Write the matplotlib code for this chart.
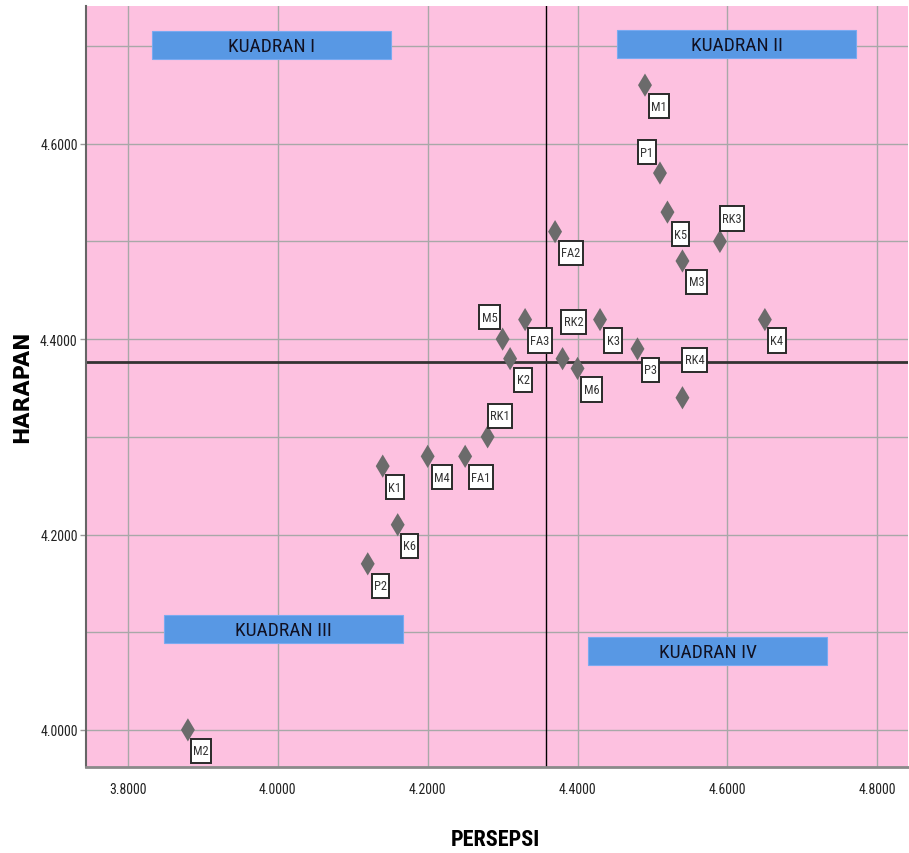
import numpy as np
import matplotlib
matplotlib.use('Agg')
import matplotlib.pyplot as plt
from matplotlib.patches import Rectangle
from matplotlib.path import Path

plt.rcParams['font.family'] = ['Roboto Condensed', 'Liberation Sans Narrow', 'Liberation Sans', 'DejaVu Sans']

# data: kode indikator, persepsi (x), harapan (y)
labels = ['M1', 'P1', 'K5', 'RK3', 'M3', 'FA2', 'M5', 'FA3', 'K2', 'RK2', 'M6',
          'K3', 'P3', 'RK4', 'K4', 'RK1', 'M4', 'FA1', 'K1', 'K6', 'P2', 'M2']
persepsi = [4.49, 4.51, 4.52, 4.59, 4.54, 4.37, 4.30, 4.33, 4.31, 4.38, 4.40,
            4.43, 4.48, 4.54, 4.65, 4.28, 4.20, 4.25, 4.14, 4.16, 4.12, 3.88]
harapan = [4.66, 4.57, 4.53, 4.50, 4.48, 4.51, 4.40, 4.42, 4.38, 4.38, 4.37,
           4.42, 4.39, 4.34, 4.42, 4.30, 4.28, 4.28, 4.27, 4.21, 4.17, 4.00]

xticks = [3.8, 4.0, 4.2, 4.4, 4.6, 4.8]
yticks = [4.0, 4.2, 4.4, 4.6]

# posisi label (offset pixel dari titik)
offsets = {'M1': (14, -21), 'P1': (-13, 21), 'K5': (13, -22), 'RK3': (12, 23),
           'M3': (14, -21), 'FA2': (16, -21), 'M5': (-13, 22), 'FA3': (15, -21),
           'K2': (13, -21), 'RK2': (11, 37), 'M6': (14, -21), 'K3': (13, -21),
           'P3': (13, -21), 'RK4': (12, 38), 'K4': (12, -21), 'RK1': (12, 21),
           'M4': (14, -21), 'FA1': (16, -21), 'K1': (12, -21), 'K6': (12, -21),
           'P2': (13, -22), 'M2': (13, -21)}

# kotak label tinggi-sempit seperti SPSS
def tall_box(x0, y0, width, height, mutation_size):
    px = 0.18 * mutation_size
    py = 0.45 * mutation_size
    x0, y0 = x0 - px, y0 - py
    x1, y1 = x0 + width + 2 * px, y0 + height + 2 * py
    return Path([(x0, y0), (x1, y0), (x1, y1), (x0, y1), (x0, y0)], closed=True)

fig = plt.figure(figsize=(9.09, 8.54), dpi=100)
ax = fig.add_axes([0.0946, 0.1007, 0.9043, 0.8911])
ax.set_facecolor('#fdc1e0')

ax.set_xlim(3.744, 4.841)
ax.set_ylim(3.962, 4.741)

ax.set_xticks(xticks)
ax.set_xticklabels([f"{v:.4f}" for v in xticks], fontsize=10)
ax.set_yticks(yticks)
ax.set_yticklabels([f"{v:.4f}" for v in yticks], fontsize=10)
ax.set_yticks([4.1, 4.3, 4.5, 4.7], minor=True)
ax.tick_params(axis='x', length=0, pad=11, colors='#222222')
ax.tick_params(axis='y', which='major', length=4, width=1, color='#999999', pad=2, labelcolor='#222222')
ax.tick_params(axis='y', which='minor', length=0)
ax.grid(True, which='both', color='#a8a8a8', linewidth=1)
ax.set_axisbelow(True)

for s in ['top', 'right']:
    ax.spines[s].set_visible(False)
ax.spines['left'].set_color('#666666')
ax.spines['left'].set_linewidth(1.5)
ax.spines['bottom'].set_color('#8a8a8a')
ax.spines['bottom'].set_linewidth(2)

# garis rata-rata
ax.axvline(np.mean(persepsi), color='black', linewidth=1, zorder=2)
ax.axhline(np.mean(harapan), color='#333333', linewidth=2, zorder=2)

# kotak kuadran
quads = [('KUADRAN I', 3.832, 4.687), ('KUADRAN II', 4.453, 4.688),
         ('KUADRAN III', 3.848, 4.089), ('KUADRAN IV', 4.414, 4.0665)]
for name, x0, y0 in quads:
    ax.add_patch(Rectangle((x0, y0), 0.319, 0.0285, facecolor='#5898e4',
                           edgecolor='#7aaaf0', linewidth=0.8, zorder=3))
    ax.text(x0 + 0.1595, y0 + 0.0135, name, ha='center', va='center',
            fontsize=14, color='#111122', zorder=4)

ax.scatter(persepsi, harapan, marker='d', s=140, color='#6b6b6b',
           edgecolors='none', zorder=5)

for lab, x, y in zip(labels, persepsi, harapan):
    ax.annotate(lab, (x, y), xytext=offsets[lab], textcoords='offset pixels',
                ha='center', va='center', fontsize=9, color='#333333', zorder=6,
                bbox=dict(boxstyle=tall_box, facecolor='white',
                          edgecolor='#2a2a2a', linewidth=1.4))

fig.text(0.5446, 0.0164, 'PERSEPSI', fontsize=16, fontweight='bold',
         ha='center', va='center')
fig.text(0.0242, 0.547, 'HARAPAN', fontsize=15, fontweight='bold', family='DejaVu Sans',
         rotation=90, ha='center', va='center')

plt.savefig('out.png', dpi=100)
